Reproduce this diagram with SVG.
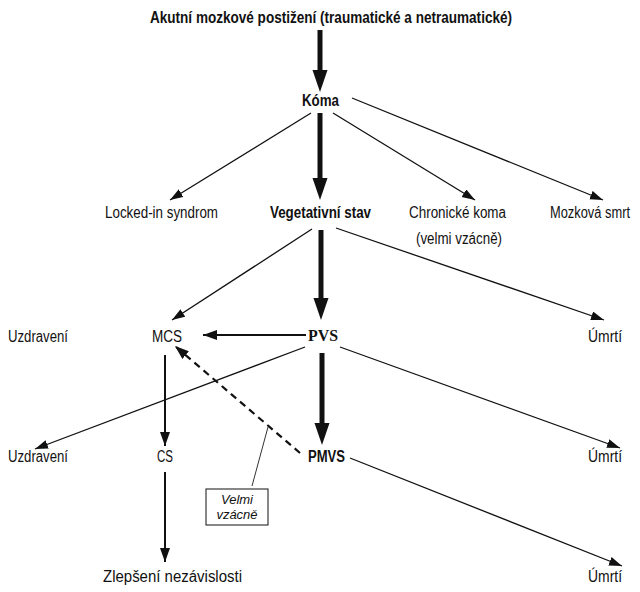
<svg xmlns="http://www.w3.org/2000/svg" width="640" height="592" viewBox="0 0 640 592">
<style>
  text { font-family: "Liberation Sans", Arial, sans-serif; font-size: 16px; fill: #111; }
  .b { font-weight: bold; }
  .serif { font-family: "Liberation Serif", "Times New Roman", serif; font-weight: bold; font-size: 16px; }
  .it { font-style: italic; font-size: 13px; }
  .thin { stroke: #111; stroke-width: 1.3; fill: none; }
  .mid { stroke: #111; stroke-width: 2; fill: none; }
  .thick { stroke: #111; stroke-width: 5; fill: none; }
  .dash { stroke: #111; stroke-width: 2.2; fill: none; stroke-dasharray: 7 5; }
</style>
<defs>
  <marker id="hThin" markerUnits="userSpaceOnUse" markerWidth="14" markerHeight="10" refX="13" refY="4.5" orient="auto">
    <path d="M0,0 L13,4.5 L0,9 z" fill="#111"/>
  </marker>
  <marker id="hMid" markerUnits="userSpaceOnUse" markerWidth="15" markerHeight="11" refX="14" refY="5" orient="auto">
    <path d="M0,0 L14,5 L0,10 z" fill="#111"/>
  </marker>
  <marker id="hThick" markerUnits="userSpaceOnUse" markerWidth="23" markerHeight="16" refX="0" refY="7.5" orient="auto">
    <path d="M0,0 L22,7.5 L0,15 z" fill="#111"/>
  </marker>
</defs>
<rect width="640" height="592" fill="#fff"/>

<g id="connectors">
  <line class="thick" x1="320" y1="30" x2="320" y2="70" marker-end="url(#hThick)"/>
  <line class="thick" x1="320" y1="113" x2="320" y2="178" marker-end="url(#hThick)"/>
  <line class="thin" x1="311" y1="113" x2="170" y2="200" marker-end="url(#hThin)"/>
  <line class="thin" x1="333" y1="113" x2="475" y2="200" marker-end="url(#hThin)"/>
  <line class="thin" x1="352" y1="98" x2="603" y2="200" marker-end="url(#hThin)"/>
  <line class="thin" x1="312" y1="229" x2="172" y2="320" marker-end="url(#hThin)"/>
  <line class="thick" x1="321" y1="230" x2="321" y2="298" marker-end="url(#hThick)"/>
  <line class="thin" x1="336" y1="228" x2="604" y2="320" marker-end="url(#hThin)"/>
  <line class="mid" x1="306" y1="335" x2="203" y2="335" marker-end="url(#hMid)"/>
  <line class="thin" x1="305" y1="347" x2="35" y2="449" marker-end="url(#hThin)"/>
  <line class="thin" x1="340" y1="347" x2="620" y2="448" marker-end="url(#hThin)"/>
  <line class="thick" x1="322" y1="353" x2="322" y2="423" marker-end="url(#hThick)"/>
  <line class="mid" x1="165" y1="355" x2="165" y2="446" marker-end="url(#hMid)"/>
  <line class="mid" x1="165" y1="472" x2="165" y2="562" marker-end="url(#hMid)"/>
  <line class="dash" x1="300" y1="453" x2="175" y2="346" marker-end="url(#hMid)"/>
  <line class="thin" x1="350" y1="458" x2="622" y2="566" marker-end="url(#hThin)"/>
  <line stroke="#333" stroke-width="1" x1="252" y1="486" x2="268" y2="427"/>
</g>

<g id="n-title"><text class="b" x="150" y="23" textLength="362" lengthAdjust="spacingAndGlyphs">Akutní mozkové postižení (traumatické a netraumatické)</text></g>
<g id="n-koma"><text class="b" x="302" y="106" textLength="37" lengthAdjust="spacingAndGlyphs">Kóma</text></g>
<g id="n-locked"><text x="105" y="218" textLength="113" lengthAdjust="spacingAndGlyphs">Locked-in syndrom</text></g>
<g id="n-veg"><text class="b" x="270" y="218" textLength="101" lengthAdjust="spacingAndGlyphs">Vegetativní stav</text></g>
<g id="n-chron"><text x="409" y="218" textLength="97" lengthAdjust="spacingAndGlyphs">Chronické koma</text><text x="416" y="244" textLength="86" lengthAdjust="spacingAndGlyphs">(velmi vzácně)</text></g>
<g id="n-brain"><text x="550" y="218" font-size="13" textLength="80" lengthAdjust="spacingAndGlyphs">Mozková smrt</text></g>

<g id="n-uzd1"><text x="8" y="342" textLength="60" lengthAdjust="spacingAndGlyphs">Uzdravení</text></g>
<g id="n-mcs"><text x="152" y="342" textLength="30" lengthAdjust="spacingAndGlyphs">MCS</text></g>
<g id="n-pvs"><text class="serif" x="308" y="341" textLength="30" lengthAdjust="spacingAndGlyphs">PVS</text></g>
<g id="n-umrti1"><text x="588" y="342" textLength="34" lengthAdjust="spacingAndGlyphs">Úmrtí</text></g>

<g id="n-uzd2"><text x="8" y="462" textLength="60" lengthAdjust="spacingAndGlyphs">Uzdravení</text></g>
<g id="n-cs"><text x="157" y="462" textLength="16" lengthAdjust="spacingAndGlyphs">CS</text></g>
<g id="n-pmvs"><text class="b" x="308" y="462" textLength="37" lengthAdjust="spacingAndGlyphs">PMVS</text></g>
<g id="n-umrti2"><text x="588" y="462" textLength="34" lengthAdjust="spacingAndGlyphs">Úmrtí</text></g>

<g id="n-note">
  <rect x="206" y="489" width="62" height="36" fill="#fff" stroke="#111" stroke-width="1"/>
  <text class="it" x="237" y="504" text-anchor="middle">Velmi</text>
  <text class="it" x="237" y="519" text-anchor="middle">vzácně</text>
</g>

<g id="n-zlep"><text x="103" y="582" textLength="139" lengthAdjust="spacingAndGlyphs">Zlepšení nezávislosti</text></g>
<g id="n-umrti3"><text x="588" y="582" textLength="34" lengthAdjust="spacingAndGlyphs">Úmrtí</text></g>
</svg>
